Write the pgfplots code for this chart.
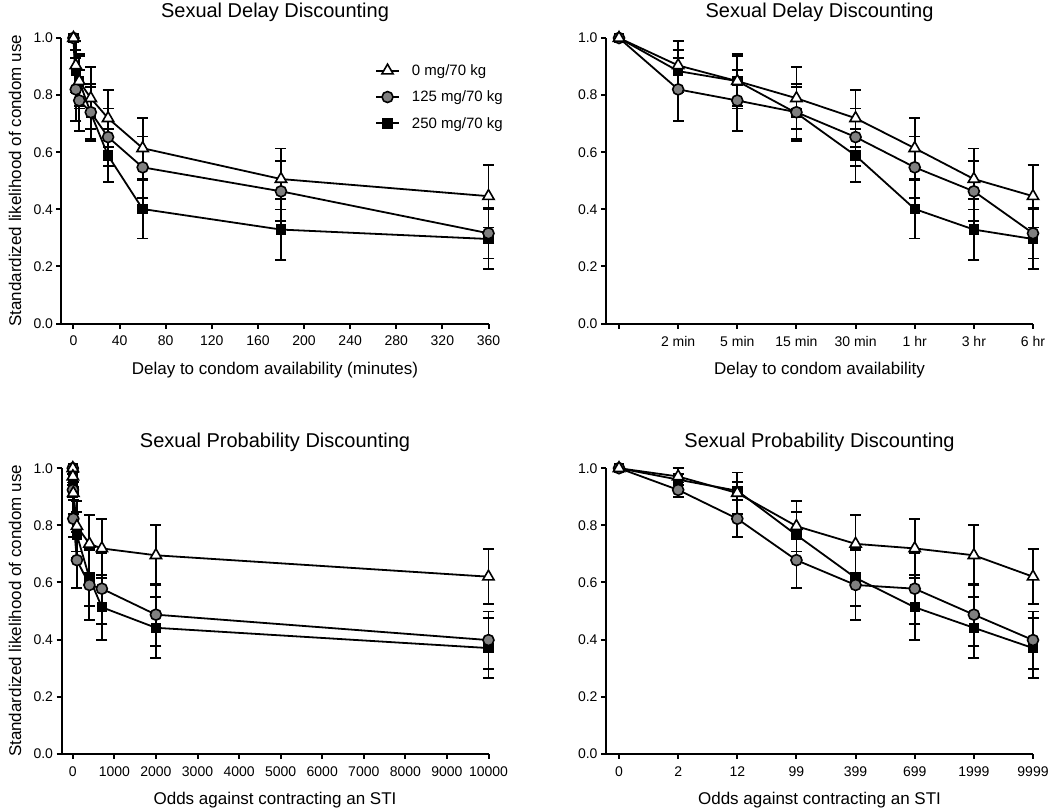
\documentclass[border=0pt]{standalone}
\usepackage{fontspec}
\setmainfont{Liberation Sans}
\usepackage{pgfplots}
\usepackage{pgfplotstable}
\pgfplotsset{compat=1.18}

\definecolor{midgray}{RGB}{128,128,128}

% delay in minutes, category index, then mean / SEM for each dose
\pgfplotstableread{
x   cat t     te    c     ce    s     se
0   0   1.000 0     1.000 0     1.000 0
2   1   0.904 0.086 0.820 0.111 0.884 0.075
5   2   0.849 0.096 0.781 0.107 0.849 0.087
15  3   0.789 0.109 0.740 0.100 0.737 0.090
30  4   0.719 0.100 0.653 0.100 0.588 0.092
60  5   0.614 0.106 0.547 0.108 0.401 0.103
180 6   0.506 0.107 0.463 0.105 0.329 0.106
360 7   0.446 0.110 0.316 0.088 0.296 0.106
}\delaydata

% odds against STI
\pgfplotstableread{
x    cat t     te    c     ce    s     se
0    0   1.000 0     1.000 0     1.000 0
2    1   0.971 0.030 0.924 0.026 0.960 0.020
12   2   0.913 0.072 0.823 0.065 0.921 0.032
99   3   0.797 0.089 0.678 0.098 0.766 0.080
399  4   0.735 0.100 0.591 0.122 0.616 0.100
699  5   0.719 0.104 0.578 0.125 0.513 0.114
1999 6   0.695 0.105 0.487 0.109 0.441 0.107
9999 7   0.620 0.097 0.398 0.100 0.370 0.105
}\probdata

\pgfplotsset{
  panel/.style={
    scale only axis, width=427pt, height=285.5pt,
    ymin=0, ymax=1, ytick={0,0.2,0.4,0.6,0.8,1.0},
    axis lines=left, axis line style={-, line width=2pt},
    tick align=outside, major tick length=5pt,
    every tick/.style={line width=2pt, black},
    clip=false,
    /pgf/number format/assume math mode=true,
    tick label style={font=\fontsize{14}{14}\selectfont},
    xticklabel style={yshift=-4pt},
    yticklabel style={/pgf/number format/.cd, fixed, fixed zerofill, precision=1},
    title style={at={(axis description cs:0.5,1.07)}, anchor=center, yshift=0pt, font=\fontsize{20}{20}\selectfont},
    xlabel style={at={(axis description cs:0.5,-0.163)}, anchor=center, font=\fontsize{17}{17}\selectfont},
    ylabel style={at={(axis description cs:-0.109,0.5)}, anchor=center, font=\fontsize{17}{17}\selectfont},
  },
  errs/.style={forget plot, draw=none, mark=none, skip coords between index={0}{1},
    error bars/.cd, y dir=both, y explicit,
    error bar style={draw=black, line width=1.8pt},
    error mark options={draw=black, rotate=90, mark size=5.5pt, line width=1.8pt}},
  tri/.style={black, line width=1.8pt, mark=triangle*, mark size=6.5pt,
    mark options={fill=white, line width=1.6pt}},
  circ/.style={black, line width=1.8pt, mark=*, mark size=5.5pt,
    mark options={fill=midgray, line width=1.6pt}},
  sq/.style={black, line width=1.8pt, mark=square*, mark size=4.6pt,
    mark options={fill=black, line width=1.2pt}},
}

\begin{document}
\begin{tikzpicture}
\useasboundingbox (0,0) rectangle (1050pt,-809pt);

% top left
\begin{axis}[panel, at={(61.5pt,-323.5pt)}, anchor=south west,
  xmin=-10.4, xmax=360, xtick={0,40,...,360},
  title={Sexual Delay Discounting},
  xlabel={Delay to condom availability (minutes)},
  ylabel={Standardized likelihood of condom use},
  reverse legend, legend cell align=left,
  legend style={at={(0.727,0.922)}, anchor=north west, draw=none, fill=none,
    font=\fontsize{15}{15}\selectfont, row sep=10pt,
    /tikz/every odd column/.append style={column sep=10pt}},
  legend image code/.code={\draw[mark repeat=2, mark phase=2, #1] plot coordinates {(0pt,0pt) (11.5pt,0pt) (23pt,0pt)};}]
\addplot[errs] table[x=x, y=s, y error=se] {\delaydata};
\addplot[sq] table[x=x, y=s] {\delaydata};
\addplot[errs] table[x=x, y=c, y error=ce] {\delaydata};
\addplot[circ] table[x=x, y=c] {\delaydata};
\addplot[errs] table[x=x, y=t, y error=te] {\delaydata};
\addplot[tri] table[x=x, y=t] {\delaydata};
\legend{250 mg/70 kg, 125 mg/70 kg, 0 mg/70 kg}
\end{axis}

% top right
\begin{axis}[panel, at={(606pt,-323.5pt)}, anchor=south west,
  xmin=-0.22, xmax=7, xtick={0,...,7},
  xticklabels={{},2 min,5 min,15 min,30 min,1 hr,3 hr,6 hr},
  title={Sexual Delay Discounting},
  xlabel={Delay to condom availability}]
\addplot[errs] table[x=cat, y=s, y error=se] {\delaydata};
\addplot[sq] table[x=cat, y=s] {\delaydata};
\addplot[errs] table[x=cat, y=c, y error=ce] {\delaydata};
\addplot[circ] table[x=cat, y=c] {\delaydata};
\addplot[errs] table[x=cat, y=t, y error=te] {\delaydata};
\addplot[tri] table[x=cat, y=t] {\delaydata};
\end{axis}

% bottom left
\begin{axis}[panel, at={(61.5pt,-753.7pt)}, anchor=south west,
  xmin=-272, xmax=10000, xtick={0,1000,...,10000}, scaled x ticks=false,
  xticklabel style={/pgf/number format/1000 sep={}},
  title={Sexual Probability Discounting},
  xlabel={Odds against contracting an STI},
  ylabel={Standardized likelihood of condom use}]
\addplot[errs] table[x=x, y=s, y error=se] {\probdata};
\addplot[sq] table[x=x, y=s] {\probdata};
\addplot[errs] table[x=x, y=c, y error=ce] {\probdata};
\addplot[circ] table[x=x, y=c] {\probdata};
\addplot[errs] table[x=x, y=t, y error=te] {\probdata};
\addplot[tri] table[x=x, y=t] {\probdata};
\end{axis}

% bottom right
\begin{axis}[panel, at={(606pt,-753.7pt)}, anchor=south west,
  xmin=-0.22, xmax=7, xtick={0,...,7},
  xticklabels={0,2,12,99,399,699,1999,9999},
  title={Sexual Probability Discounting},
  xlabel={Odds against contracting an STI}]
\addplot[errs] table[x=cat, y=s, y error=se] {\probdata};
\addplot[sq] table[x=cat, y=s] {\probdata};
\addplot[errs] table[x=cat, y=c, y error=ce] {\probdata};
\addplot[circ] table[x=cat, y=c] {\probdata};
\addplot[errs] table[x=cat, y=t, y error=te] {\probdata};
\addplot[tri] table[x=cat, y=t] {\probdata};
\end{axis}
\end{tikzpicture}
\end{document}
